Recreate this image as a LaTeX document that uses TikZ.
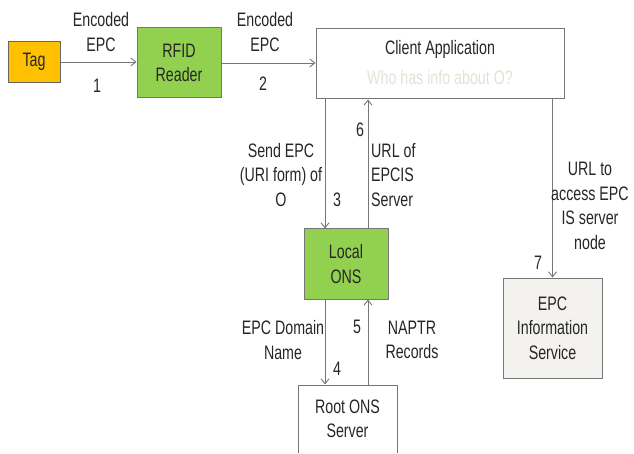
\documentclass[tikz,border=0pt]{standalone}
\usepackage{fontspec}
\setmainfont{Liberation Sans}[FakeStretch=0.73]
\usetikzlibrary{arrows.meta,positioning}
\definecolor{tagorange}{HTML}{FFC000}
\definecolor{onsgreen}{HTML}{92D050}
\definecolor{boxgray}{HTML}{767676}
\definecolor{paleinfo}{HTML}{F3F2EE}
\definecolor{whotext}{HTML}{E4E1D6}

\begin{document}
\begin{tikzpicture}[
  x=1pt,y=-1pt,
  every node/.style={font=\fontsize{19.5}{24.5}\selectfont,text=black!85,align=center,inner sep=0pt},
  blockbox/.style={draw=boxgray,line width=1pt,minimum width=84pt,minimum height=70pt},
  arr/.style={-{Straight Barb[length=5pt,width=8pt]},draw=boxgray,line width=0.9pt},
]
  \useasboundingbox (0,0) rectangle (634,454);
  \clip (0,0) rectangle (634,452);

  % top row: tag, reader, client
  \node[blockbox,fill=tagorange,draw=black!60,minimum width=52pt,minimum height=41pt] (tag) at (34,62) {Tag};
  \node[blockbox,fill=onsgreen] (reader) at (179,63) {RFID\\Reader};
  \node[blockbox,minimum width=248pt] (client) at (440,64) {};
  \node (cltitle) at (440,49) {Client Application};
  \node[text=whotext] (clwho) at (440,78) {Who has info about O?};

  % middle and bottom: local ONS, root ONS, EPC IS
  \node[blockbox,fill=onsgreen] (lons) at (346,264) {Local\\ONS};
  \node[blockbox,minimum width=99pt,minimum height=68pt] (rons) at (347.5,419) {Root ONS\\Server};
  \node[blockbox,fill=paleinfo,minimum width=99pt,minimum height=100pt] (epcis) at (552.5,328) {EPC\\Information\\Service};

  % connectors
  \draw[arr] (tag.east) -- (reader.west |- tag.east);
  \draw[arr] (reader.east) -- (reader.east -| client.west);
  \draw[arr] ([xshift=-21pt]lons.north |- client.south) -- ([xshift=-21pt]lons.north);
  \draw[arr] ([xshift=22pt]lons.north) -- ([xshift=22pt]lons.north |- client.south);
  \draw[arr] ([xshift=-21pt]lons.south) -- ([xshift=-21pt]lons.south |- rons.north);
  \draw[arr] ([xshift=22pt]lons.south |- rons.north) -- ([xshift=22pt]lons.south);
  \draw[arr] (epcis.north |- client.south) -- (epcis.north);

  % labels
  \node (lbl1) at (101,32) {Encoded\\EPC};
  \node (num1) at (97,86) {1};
  \node (lbl2) at (265,32) {Encoded\\EPC};
  \node (num2) at (263,84) {2};
  \node (lbl3) at (281,175) {Send EPC\\(URI form) of\\O};
  \node (num3) at (337,200) {3};
  \node (num6) at (360,130) {6};
  \node[align=left,anchor=west] (lbl6) at (371,175) {URL of\\EPCIS\\Server};
  \node (lbl4) at (283,340) {EPC Domain\\Name};
  \node (num4) at (337,369) {4};
  \node (num5) at (357,327) {5};
  \node (lbl5) at (412,340) {NAPTR\\Records};
  \node (lbl7) at (590,206) {URL to\\access EPC\\IS server\\node};
  \node (num7) at (538,263) {7};
\end{tikzpicture}
\end{document}
